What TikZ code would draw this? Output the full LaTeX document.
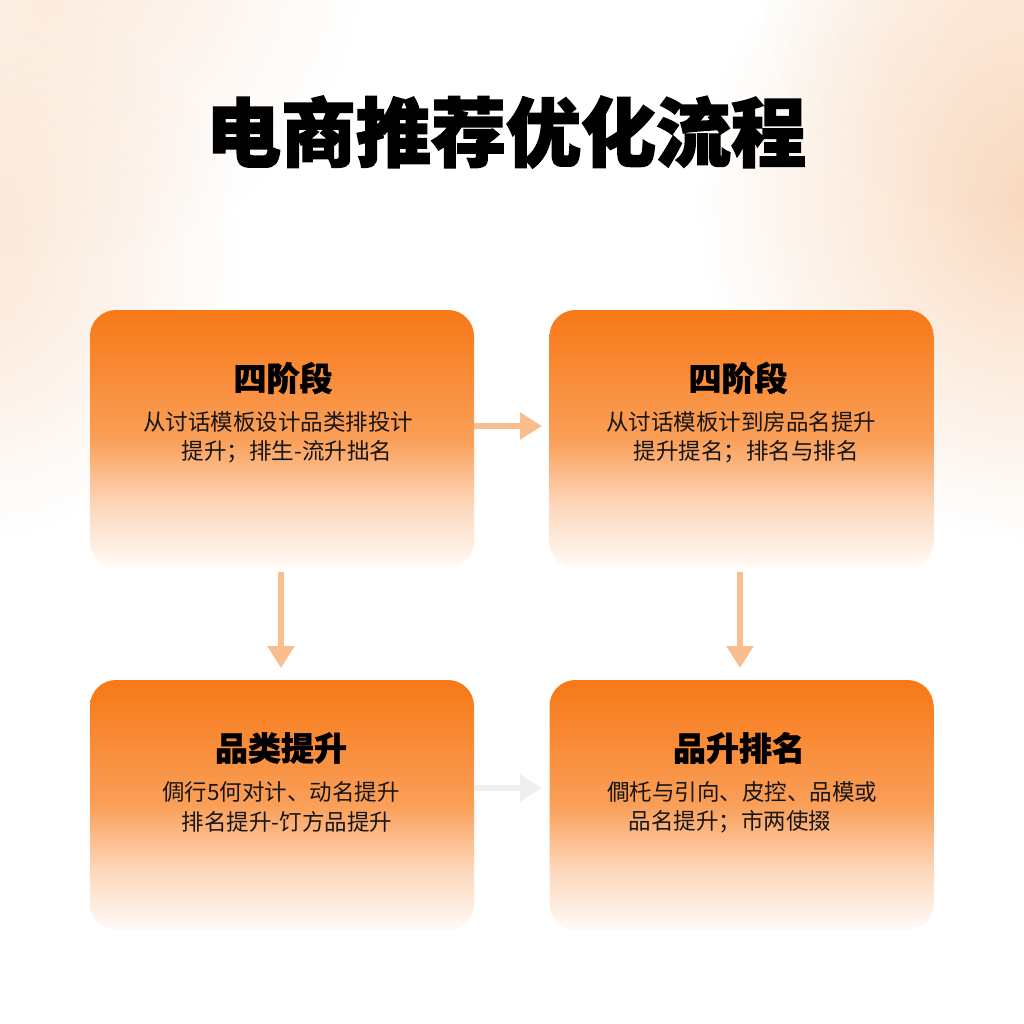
\documentclass[tikz,border=0pt]{standalone}
\usepackage{fontspec}
\usetikzlibrary{arrows.meta,fadings}
\newfontfamily\cjk{Noto Sans CJK SC}[BoldFeatures={FakeBold=1.2}]
\newfontfamily\cjktitle{Noto Sans CJK SC}[BoldFeatures={FakeBold=2.2}]
\newfontfamily\cjkbody{Noto Sans CJK SC}[BoldFeatures={FakeBold=0.3}]
\definecolor{boxtop}{HTML}{F77817}
\definecolor{boxmid}{HTML}{FA9F58}
\definecolor{boxlow}{HTML}{FDD8BC}
\definecolor{boxbot}{HTML}{FFFBF8}
\definecolor{arrowc}{HTML}{F9BD8E}
\definecolor{arrowg}{HTML}{EFEFEF}
\definecolor{peach}{HTML}{F9D2B2}
\definecolor{textc}{HTML}{161616}
\tikzfading[name=softglow, inner color=transparent!0, outer color=transparent!100]
\pgfdeclareverticalshading{boxshade}{100bp}{%
  color(0bp)=(boxbot); color(25bp)=(boxbot); color(37bp)=(boxlow);
  color(50bp)=(boxmid); color(75bp)=(boxtop); color(100bp)=(boxtop)}
\tikzset{
  stagebox/.style={shading=boxshade, rounded corners=26pt, minimum width=384pt,
    inner sep=0pt, draw=none},
  headtxt/.style={font=\cjk\bfseries\fontsize{33}{36}\selectfont, text=black, inner sep=0pt},
  bodytxt/.style={font=\cjkbody\fontsize{22.5}{26}\selectfont, text=textc, inner sep=0pt},
  flowarrow/.style={draw=arrowc, line width=6pt, -{Triangle[width=26pt,length=22pt]}},
  faintarrow/.style={draw=arrowg, line width=6pt, -{Triangle[width=26pt,length=22pt]}},
  glow/.style={fill=peach, path fading=softglow}
}
\begin{document}
\begin{tikzpicture}[x=1pt,y=-1pt]
\useasboundingbox (0,0) rectangle (1024,1024);
\fill[white] (0,0) rectangle (1024,1024);
\begin{scope}
\clip (0,0) rectangle (1024,1024);
\fill[glow, fill opacity=0.85] (1040,200) circle (340);
\fill[glow, fill opacity=0.55] (-40,260) circle (280);
\fill[glow, fill opacity=0.45] (60,-40) circle (300);
\fill[glow, fill opacity=0.3] (1000,-20) circle (240);
\end{scope}
% title
\node[font=\cjktitle\bfseries\fontsize{75}{80}\selectfont, text=black, inner sep=0pt] (title) at (506,132) {电商推荐优化流程};
% boxes
\node[stagebox, minimum height=258pt] (b1) at (282,439) {};
\node[stagebox, minimum height=258pt] (b2) at (741.5,439) {};
\node[stagebox, minimum height=250pt] (b3) at (282,805) {};
\node[stagebox, minimum height=250pt] (b4) at (741.5,805) {};
% texts
\node[headtxt] (h1) at (283,378) {四阶段};
\node[bodytxt] (t1a) at (278,422) {从讨话模板设计品类排投计};
\node[bodytxt] (t1b) at (287,452) {提升；排生-流升拙名};
\node[headtxt] (h2) at (738,378) {四阶段};
\node[bodytxt] (t2a) at (741,422) {从讨话模板计到房品名提升};
\node[bodytxt] (t2b) at (746,452) {提升提名；排名与排名};
\node[headtxt] (h3) at (281,748) {品类提升};
\node[bodytxt] (t3a) at (281,792) {倜行5何对计、动名提升};
\node[bodytxt] (t3b) at (287,822) {排名提升-饤方品提升};
\node[headtxt] (h4) at (739,748) {品升排名};
\node[bodytxt] (t4a) at (742,792) {僴杔与引向、皮控、品模或};
\node[bodytxt] (t4b) at (730,822) {品名提升；市两使掇};
% arrows
\coordinate (a1s) at (b1.east |- 0,426);
\coordinate (a1e) at (542,426);
\draw[flowarrow] (a1s) -- (a1e);
\coordinate (a2s) at (281,572);
\coordinate (a2e) at (281,668);
\draw[flowarrow] (a2s) -- (a2e);
\coordinate (a3s) at (740,572);
\coordinate (a3e) at (740,668);
\draw[flowarrow] (a3s) -- (a3e);
\coordinate (a4s) at (b3.east |- 0,788);
\coordinate (a4e) at (542,788);
\draw[faintarrow] (a4s) -- (a4e);
\end{tikzpicture}
\end{document}
